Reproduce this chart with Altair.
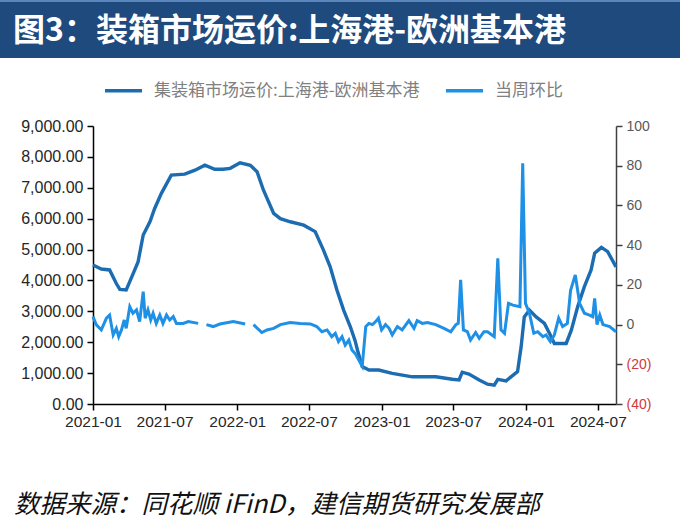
import altair as alt
import pandas as pd

series_names = ["集装箱市场运价:上海港-欧洲基本港", "当周环比"]
title_text = "图3：装箱市场运价:上海港-欧洲基本港"
source_text = "数据来源：同花顺 iFinD，建信期货研究发展部"

price_dates = [
    "2021-01-01", "2021-01-22", "2021-02-12", "2021-03-01", "2021-03-10", "2021-03-26",
    "2021-04-04", "2021-04-25", "2021-05-08", "2021-05-25", "2021-06-06", "2021-06-23",
    "2021-07-18", "2021-08-21", "2021-09-16", "2021-10-11", "2021-11-05", "2021-11-26",
    "2021-12-14", "2022-01-08", "2022-02-03", "2022-02-20", "2022-03-08", "2022-04-03",
    "2022-04-20", "2022-05-15", "2022-06-18", "2022-07-17", "2022-08-07", "2022-08-24",
    "2022-09-10", "2022-09-27", "2022-10-14", "2022-10-26", "2022-11-01", "2022-11-13",
    "2022-11-30", "2022-12-25", "2023-01-28", "2023-03-20", "2023-05-18", "2023-06-29",
    "2023-07-16", "2023-07-24", "2023-08-10", "2023-09-05", "2023-09-26", "2023-10-13",
    "2023-10-22", "2023-11-12", "2023-12-11", "2023-12-20", "2023-12-28", "2024-01-10",
    "2024-01-27", "2024-02-17", "2024-03-05", "2024-03-13", "2024-04-12", "2024-04-25",
    "2024-05-11", "2024-05-28", "2024-06-14", "2024-06-23", "2024-07-10", "2024-07-26",
    "2024-08-16",
]
price_values = [
    4500, 4370, 4340, 3900, 3710, 3690,
    3960, 4600, 5470, 5900, 6330, 6820,
    7410, 7440, 7570, 7730, 7600, 7600,
    7630, 7810, 7730, 7520, 6930, 6170,
    6000, 5900, 5790, 5580, 4980, 4440,
    3690, 3040, 2500, 2050, 1750, 1210,
    1100, 1100, 990, 880, 880, 800,
    780, 1030, 970, 780, 640, 610,
    800, 750, 1050, 1850, 2820, 3040,
    2820, 2610, 2180, 1960, 1960, 2390,
    3150, 3800, 4340, 4880, 5070, 4930,
    4440,
]

change_points = [
    ("2021-01-01", 4), ("2021-01-09", 0), ("2021-01-22", -2.7), ("2021-02-04", 3.2),
    ("2021-02-12", 4.8), ("2021-02-21", -5.2), ("2021-03-01", -1.9), ("2021-03-07", -6.1),
    ("2021-03-14", -2.7), ("2021-03-21", 2.3), ("2021-03-26", -1.9), ("2021-04-04", 9),
    ("2021-04-12", 5.7), ("2021-04-21", 7.4), ("2021-04-29", 1.5), ("2021-05-08", 16.6),
    ("2021-05-13", 3.2), ("2021-05-20", 7.4), ("2021-05-27", 2.3), ("2021-06-02", 5.7),
    ("2021-06-10", 0.6), ("2021-06-19", 4.8), ("2021-06-27", 0.6), ("2021-07-06", 4.8),
    ("2021-07-14", 2.3), ("2021-07-23", 4), ("2021-07-31", 0.6), ("2021-08-17", 0.6),
    ("2021-08-30", 1.5), ("2021-09-24", 0.6), ("2021-10-04", None), ("2021-10-15", 0),
    ("2021-11-01", -1), ("2021-11-18", 0.3), ("2021-12-22", 1.5), ("2022-01-21", 0.3),
    ("2022-02-01", None), ("2022-02-11", 0), ("2022-03-04", -4), ("2022-03-17", -2.7),
    ("2022-04-03", -1.9), ("2022-04-20", 0), ("2022-05-15", 1), ("2022-06-09", 0.6),
    ("2022-07-05", 0.3), ("2022-07-21", -1), ("2022-08-03", -3.6), ("2022-08-16", -2.7),
    ("2022-08-28", -6.1), ("2022-09-06", -4.4), ("2022-09-14", -8.6), ("2022-09-23", -6.1),
    ("2022-10-01", -10.3), ("2022-10-10", -7.8), ("2022-10-18", -12.8), ("2022-10-26", -14.5),
    ("2022-11-13", -21), ("2022-11-22", -1), ("2022-11-30", 0.6), ("2022-12-09", 0),
    ("2022-12-17", 1.5), ("2022-12-24", 3.2), ("2023-01-01", -2.7), ("2023-01-11", 0),
    ("2023-01-20", -1.9), ("2023-01-28", -5.2), ("2023-02-10", -1), ("2023-02-22", -2.7),
    ("2023-03-11", 2), ("2023-03-24", -1.9), ("2023-04-01", 2), ("2023-04-14", 0.6),
    ("2023-04-27", 1), ("2023-05-18", 0), ("2023-06-08", -1.9), ("2023-06-25", -3.6),
    ("2023-07-08", 0), ("2023-07-14", 0.6), ("2023-07-20", 22.5), ("2023-07-27", -2.7),
    ("2023-08-06", -3.6), ("2023-08-14", -7.8), ("2023-08-27", -4), ("2023-09-05", -6.9),
    ("2023-09-17", -3.6), ("2023-09-26", -3.6), ("2023-10-13", -6.1), ("2023-10-22", 33.4),
    ("2023-10-30", -2.7), ("2023-11-08", -4.4), ("2023-11-18", 10.7), ("2023-11-29", 9.8),
    ("2023-12-17", 9), ("2023-12-24", 81.2), ("2023-12-31", 10.7), ("2024-01-10", 5.7),
    ("2024-01-21", -4.4), ("2024-01-31", -3.6), ("2024-02-13", -6.1), ("2024-02-21", -5.2),
    ("2024-03-03", -8.6), ("2024-03-13", -5.2), ("2024-03-24", 3.2), ("2024-04-03", -1),
    ("2024-04-15", 0.6), ("2024-04-23", 17.1), ("2024-05-05", 25), ("2024-05-16", 10.7),
    ("2024-05-28", 5.7), ("2024-06-10", 4.8), ("2024-06-18", 4), ("2024-06-23", 13.2),
    ("2024-06-29", 0), ("2024-07-06", 4.8), ("2024-07-14", 0), ("2024-07-31", -1),
    ("2024-08-16", -3.6),
]
change_dates = [d for d, _ in change_points]
change_values = [v for _, v in change_points]

x_tick_months = [(2021, 1), (2021, 7), (2022, 1), (2022, 7), (2023, 1), (2023, 7), (2024, 1), (2024, 7)]
left_ticks = [0, 1000, 2000, 3000, 4000, 5000, 6000, 7000, 8000, 9000]
right_ticks = [-40, -20, 0, 20, 40, 60, 80, 100]

dark_blue = "#1c6cb2"
light_blue = "#1e90e6"

price_df = pd.DataFrame({"date": price_dates, "value": price_values, "series": series_names[0]})
change_df = pd.DataFrame({"date": change_dates, "value": change_values, "series": series_names[1]})

x_scale = alt.Scale(
    type="utc",
    domain=[alt.DateTime(year=2021, month=1, date=1, utc=True), alt.DateTime(year=2024, month=8, date=16, utc=True)],
)
x_axis = alt.Axis(
    values=[alt.DateTime(year=y, month=m, date=1, utc=True) for y, m in x_tick_months],
    labelExpr="utcFormat(datum.value, '%Y-%m')", title=None, grid=False,
    labelOverlap=False, labelFlush=False,
    domainColor="#000000", domainWidth=1.5, tickColor="#000000", tickWidth=1.5, tickSize=6,
    labelFont="Liberation Sans", labelFontSize=15.5, labelColor="#262626", labelPadding=4,
)

color_enc = alt.Color(
    "series:N",
    scale=alt.Scale(domain=series_names, range=[dark_blue, light_blue]),
    legend=alt.Legend(
        orient="none", legendX=10, legendY=-56, direction="horizontal", title=None,
        symbolType="stroke", symbolSize=1369, symbolStrokeWidth=3.5,
        labelFont="Noto Sans CJK SC", labelFontSize=17, labelColor="#808080",
        labelOffset=10, columnPadding=19, labelLimit=400,
    ),
)

price_line = alt.Chart(price_df).mark_line(strokeWidth=3.4).encode(
    x=alt.X("date:T", scale=x_scale, axis=x_axis),
    y=alt.Y(
        "value:Q",
        scale=alt.Scale(domain=[0, 9000], nice=False),
        axis=alt.Axis(
            orient="left", values=left_ticks, format=",.2f", title=None, grid=False,
            domainColor="#000000", domainWidth=1.5, tickColor="#000000", tickWidth=1.5, tickSize=6,
            labelFont="Liberation Sans", labelFontSize=16, labelColor="#262626", labelPadding=4,
        ),
    ),
    color=color_enc,
)

change_line = alt.Chart(change_df).mark_line(strokeWidth=3, invalid="break-paths-show-domains").encode(
    x=alt.X("date:T", scale=x_scale, axis=x_axis),
    y=alt.Y(
        "value:Q",
        scale=alt.Scale(domain=[-40, 100], nice=False),
        axis=alt.Axis(
            orient="right", values=right_ticks, title=None, grid=False,
            labelExpr="datum.value < 0 ? '(' + abs(datum.value) + ')' : datum.label",
            labelColor={"condition": {"test": "datum.value < 0", "value": "#d03a3a"}, "value": "#595959"},
            domainColor="#404040", domainWidth=1.5, tickColor="#404040", tickWidth=1.5, tickSize=6,
            labelFont="Liberation Sans", labelFontSize=14, labelPadding=4,
        ),
    ),
    color=color_enc,
)

blank = alt.Data(values=[{}])
band = alt.Chart(blank).mark_rect(color="#1f4a7e").encode(
    x=alt.value(-93), x2=alt.value(587), y=alt.value(-126), y2=alt.value(-68)
)
band_top = alt.Chart(blank).mark_rect(color="#5a86bb").encode(
    x=alt.value(-93), x2=alt.value(587), y=alt.value(-126), y2=alt.value(-124)
)
title_mark = alt.Chart(blank).mark_text(
    align="left", baseline="middle", font="Noto Sans CJK SC", fontSize=32,
    fontWeight="bold", color="#ffffff",
).encode(x=alt.value(-80), y=alt.value(-95), text=alt.value(title_text))
source_mark = alt.Chart(blank).mark_text(
    align="left", baseline="middle", font="Noto Sans CJK SC", fontSize=25.5,
    fontStyle="italic", color="#111111",
).encode(x=alt.value(-79), y=alt.value(379), text=alt.value(source_text))

chart = alt.layer(band, band_top, title_mark, source_mark, price_line, change_line).resolve_scale(
    y="independent"
).properties(
    width=523, height=278,
    padding={"left": 93, "top": 126, "right": 64, "bottom": 126},
    autosize=alt.AutoSizeParams(type="none"),
    background="#ffffff",
).configure_view(strokeWidth=0)

chart.save("out.html", embed_options={"renderer": "svg", "actions": False})
